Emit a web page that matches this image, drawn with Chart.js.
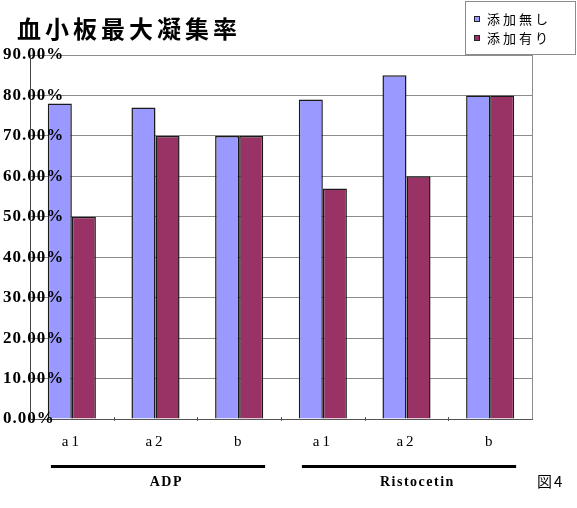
<!DOCTYPE html>
<html>
<head>
<meta charset="utf-8">
<script src="https://cdn.jsdelivr.net/npm/chart.js@4/dist/chart.umd.min.js"></script>
<style>
  body { margin: 0; background: #fff; }
</style>
</head>
<body>
<canvas id="barChart" width="577" height="508"></canvas>
<script>
const title = '血小板最大凝集率';
const categories = ['a1', 'a2', 'b', 'a1', 'a2', 'b'];
const groups = ['ADP', 'Ristocetin'];
const groupRanges = [[0, 2], [3, 5]];
const seriesNames = ['添加無し', '添加有り'];
const noAdditive = [78, 77, 70, 79, 85, 80];
const withAdditive = [50, 70, 70, 57, 60, 80];
const figureLabel = '図4';

const serif = '"Liberation Serif", "Times New Roman", serif';
const jp = '"Noto Sans CJK JP", sans-serif';

// title, legend box, group bars and frame drawn around the chart
const decorations = {
    id: 'decorations',
    beforeDraw(chart) {
        // spacing for the x labels (drawn before the bars)
        chart.ctx.letterSpacing = '3px';
    },
    afterDatasetsDraw(chart) {
        const ctx = chart.ctx;
        const area = chart.chartArea;
        const x = chart.scales.x;
        ctx.save();
        ctx.letterSpacing = '0px';

        // right border of plot
        ctx.strokeStyle = '#8c8c8c';
        ctx.lineWidth = 1;
        ctx.beginPath();
        ctx.moveTo(area.right + 0.5, area.top);
        ctx.lineTo(area.right + 0.5, area.bottom);
        ctx.stroke();

        // small tick marks between categories
        const w = x.getPixelForValue(1) - x.getPixelForValue(0);
        ctx.strokeStyle = '#555';
        for (let i = 1; i < categories.length; i++) {
            const px = Math.round(x.getPixelForValue(i) - w / 2) + 0.5;
            ctx.beginPath();
            ctx.moveTo(px, area.bottom - 2);
            ctx.lineTo(px, area.bottom + 2);
            ctx.stroke();
        }

        // title
        ctx.fillStyle = '#000';
        ctx.font = 'bold 24px ' + jp;
        ctx.letterSpacing = '4px';
        ctx.textBaseline = 'middle';
        ctx.textAlign = 'left';
        ctx.fillText(title, 17, 29);

        // legend box
        ctx.fillStyle = '#fff';
        ctx.fillRect(465, 1, 111, 54);
        ctx.strokeStyle = '#8c8c8c';
        ctx.strokeRect(465.5, 1.5, 110, 53);
        ctx.font = '13px ' + jp;
        ctx.letterSpacing = '3px';
        chart.data.datasets.forEach((ds, i) => {
            const cy = 19 + i * 19;
            ctx.fillStyle = ds.backgroundColor;
            ctx.fillRect(474, cy - 3, 6, 6);
            ctx.strokeStyle = '#222';
            ctx.strokeRect(474.5, cy - 2.5, 5, 5);
            ctx.fillStyle = '#000';
            ctx.fillText(ds.label, 487, cy);
        });

        // group lines and labels
        ctx.letterSpacing = '1.5px';
        ctx.font = 'bold 14px ' + serif;
        ctx.textAlign = 'center';
        groups.forEach((g, i) => {
            const x0 = x.getPixelForValue(groupRanges[i][0]) - 0.25 * w;
            const x1 = x.getPixelForValue(groupRanges[i][1]) + 0.31 * w;
            ctx.fillStyle = '#000';
            ctx.fillRect(x0, 465, x1 - x0, 3);
            ctx.fillText(g, (x0 + x1) / 2 + 0.1 * w, 482);
        });

        ctx.font = '15px ' + jp;
        ctx.letterSpacing = '2px';
        ctx.textAlign = 'left';
        ctx.fillText(figureLabel, 537, 481);
        ctx.restore();

        // spacing for the y labels, which are drawn over the bars
        ctx.letterSpacing = '1px';
    }
};

const ctx = document.getElementById('barChart').getContext('2d');

const myChart = new Chart(ctx, {
    type: 'bar',
    data: {
        labels: categories,
        datasets: [{
            label: seriesNames[0],
            data: noAdditive,
            backgroundColor: '#9999ff',
            borderColor: '#1a1a1a',
            borderWidth: 1.5
        }, {
            label: seriesNames[1],
            data: withAdditive,
            backgroundColor: '#993366',
            borderColor: '#1a1a1a',
            borderWidth: 1.5
        }]
    },
    options: {
        responsive: false,
        animation: false,
        layout: {
            padding: { top: 55, left: 0, right: 45, bottom: 43 }
        },
        datasets: {
            bar: { categoryPercentage: 0.575, barPercentage: 1.0 }
        },
        plugins: {
            legend: { display: false },
            tooltip: { enabled: false }
        },
        scales: {
            x: {
                grid: { display: false, drawTicks: false },
                border: { display: true, color: '#555', width: 1 },
                ticks: {
                    padding: 14,
                    color: '#000',
                    font: { family: serif, size: 15 }
                }
            },
            y: {
                min: 0,
                max: 90,
                grid: { color: '#8c8c8c', drawTicks: false },
                border: { display: true, color: '#444', width: 1, z: 2 },
                afterFit: axis => { axis.width = 30; },
                ticks: {
                    z: 1,
                    stepSize: 10,
                    mirror: true,
                    padding: -27,
                    color: '#000',
                    font: { family: serif, size: 17, weight: 'bold' },
                    callback: v => v.toFixed(2) + '%'
                }
            }
        }
    },
    plugins: [decorations]
});
</script>
</body>
</html>
